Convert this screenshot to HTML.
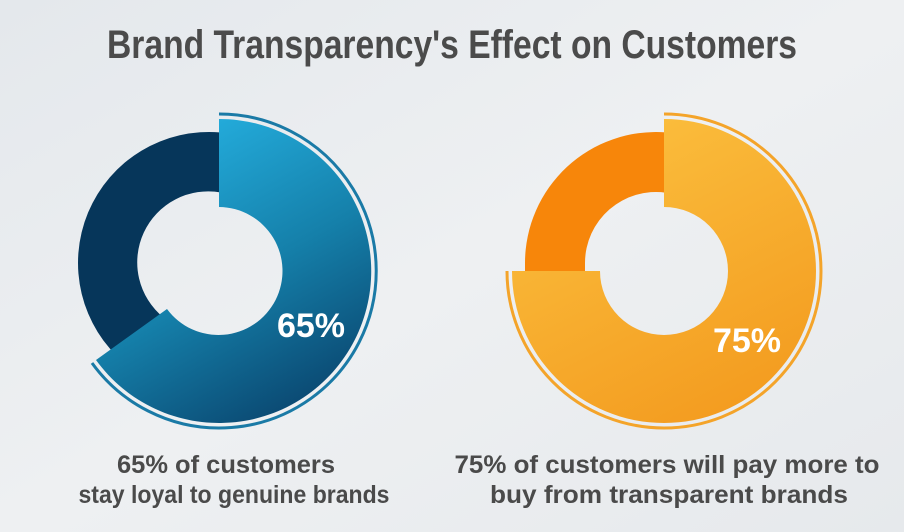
<!DOCTYPE html>
<html><head><meta charset="utf-8"><style>
html,body{margin:0;padding:0;width:904px;height:532px;overflow:hidden;}
</style></head><body>
<svg width="904" height="532" viewBox="0 0 904 532" xmlns="http://www.w3.org/2000/svg">
<defs>
<linearGradient id="bg" x1="0" y1="0" x2="1" y2="1">
<stop offset="0" stop-color="#e4e8ec"/><stop offset="0.5" stop-color="#eef0f2"/><stop offset="1" stop-color="#e6e9ec"/>
</linearGradient>
<linearGradient id="blue" x1="0.3" y1="0" x2="0.8" y2="1">
<stop offset="0" stop-color="#25b0e0"/><stop offset="0.5" stop-color="#1580aa"/><stop offset="1" stop-color="#09416a"/>
</linearGradient>
<linearGradient id="org" x1="0.3" y1="0" x2="0.8" y2="1">
<stop offset="0" stop-color="#fbbf3e"/><stop offset="1" stop-color="#f39a1e"/>
</linearGradient>
</defs>
<rect width="904" height="532" fill="url(#bg)"/>
<text x="452" y="58" text-anchor="middle" textLength="690" lengthAdjust="spacingAndGlyphs" font-family="Liberation Sans, sans-serif" font-weight="bold" font-size="40" fill="#4b4b4b">Brand Transparency's Effect on Customers</text>

<!-- left donut -->
<path d="M124.8 363.3 A131 131 0 0 1 221 132.5 L221 192.5 A71 71 0 0 0 163.4 317.4 Z" fill="#06365a"/>
<path d="M219 119 A152 152 0 1 1 96 360 L167 309 A64 64 0 1 0 219 207 Z" fill="url(#blue)"/>
<path d="M219 114 A157 157 0 1 1 92 363" fill="none" stroke="#1a7aa6" stroke-width="3"/>
<text x="311" y="337" text-anchor="middle" font-family="Liberation Sans, sans-serif" font-weight="bold" font-size="34" fill="#fff">65%</text>

<!-- right donut -->
<path d="M525 274 L525 263 A131 131 0 0 1 666 132.4 L666 192.7 A71 71 0 0 0 585 263 L585 274 Z" fill="#f7860a"/>
<path d="M664 119 A152 152 0 1 1 512 271 L600 271 A64 64 0 1 0 664 207 Z" fill="url(#org)"/>
<path d="M664 114 A157 157 0 1 1 507 271" fill="none" stroke="#f4a42a" stroke-width="3"/>
<text x="747" y="352" text-anchor="middle" font-family="Liberation Sans, sans-serif" font-weight="bold" font-size="34" fill="#fff">75%</text>

<g font-family="Liberation Sans, sans-serif" font-weight="bold" font-size="25" fill="#4a4a4a" text-anchor="middle">
<text x="226" y="473" textLength="218" lengthAdjust="spacingAndGlyphs">65% of customers</text>
<text x="234" y="503" textLength="311" lengthAdjust="spacingAndGlyphs">stay loyal to genuine brands</text>
<text x="667" y="473" textLength="425" lengthAdjust="spacingAndGlyphs">75% of customers will pay more to</text>
<text x="669" y="503" textLength="358" lengthAdjust="spacingAndGlyphs">buy from transparent brands</text>
</g>
</svg>
</body></html>
